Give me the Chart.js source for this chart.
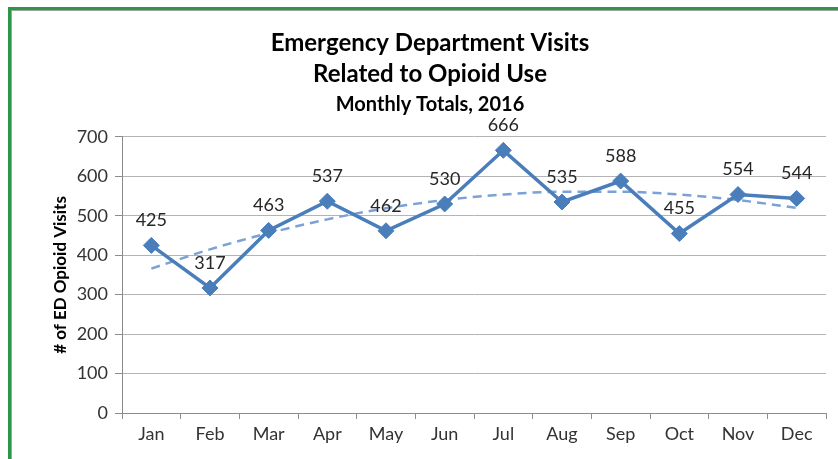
<!DOCTYPE html>
<html>
<head>
<meta charset="utf-8">
<script src="https://cdn.jsdelivr.net/npm/chart.js@4"></script>
<style>
    html, body { margin: 0; padding: 0; background: #fff; }
    #wrap { position: relative; width: 838px; height: 459px; overflow: hidden; }
    #frame {
        position: absolute; left: 8px; top: 7px; width: 900px; height: 500px;
        border-left: 3px solid #2e9649; border-top: 3px solid #2e9649;
        box-shadow: inset 1px 1px 0 #9aa79c;
    }
    #chartBox { position: absolute; left: 0; top: 0; width: 838px; height: 459px; }
</style>
</head>
<body>
<div id="wrap">
    <div id="frame"></div>
    <div id="chartBox"><canvas id="opioidChart"></canvas></div>
</div>
<script>
// 月份
const months = ['Jan', 'Feb', 'Mar', 'Apr', 'May', 'Jun', 'Jul', 'Aug', 'Sep', 'Oct', 'Nov', 'Dec'];
// 每月急诊就诊人次
const visits = [425, 317, 463, 537, 462, 530, 666, 535, 588, 455, 554, 544];
// 趋势线（二次多项式）
const trend = [366, 415, 456, 491, 519, 540, 554, 561, 561, 554, 540, 520];
// 纵轴刻度
const yTicks = [0, 100, 200, 300, 400, 500, 600, 700];

const FONT = 'Lato, "Open Sans", sans-serif';

// 数据标签插件
const valueLabels = {
    id: 'valueLabels',
    afterDatasetsDraw(chart) {
        const ctx = chart.ctx;
        const meta = chart.getDatasetMeta(0);
        ctx.save();
        ctx.font = '18px ' + FONT;
        ctx.fillStyle = '#262626';
        ctx.textAlign = 'center';
        ctx.textBaseline = 'middle';
        meta.data.forEach((pt, i) => {
            ctx.fillText(String(visits[i]), pt.x, pt.y - 25);
        });
        ctx.restore();
    }
};

const ctx = document.getElementById('opioidChart');
new Chart(ctx, {
    type: 'line',
    data: {
        labels: months,
        datasets: [
            {
                label: 'ED Visits',
                data: visits,
                borderColor: '#4a7ebb',
                backgroundColor: '#4a7ebb',
                borderWidth: 3.5,
                tension: 0,
                pointStyle: 'rectRot',
                pointRadius: 8,
                pointBorderWidth: 1,
                pointBackgroundColor: '#4a7ebb',
                pointBorderColor: '#4a7ebb',
                order: 1
            },
            {
                label: 'Trend',
                data: trend,
                borderColor: '#7ba1d6',
                borderWidth: 2.5,
                borderDash: [9, 6],
                tension: 0.4,
                cubicInterpolationMode: 'monotone',
                pointRadius: 0,
                fill: false,
                order: 2
            }
        ]
    },
    options: {
        responsive: true,
        maintainAspectRatio: false,
        animation: false,
        layout: { padding: { left: 34, right: 12, top: 0, bottom: 0 } },
        plugins: {
            legend: { display: false },
            tooltip: { enabled: false },
            title: {
                display: true,
                text: ['Emergency Department Visits', 'Related to Opioid Use'],
                color: '#000',
                font: { family: FONT, size: 24, weight: 'bold', lineHeight: 1.29 },
                padding: { top: 28, bottom: 3 }
            },
            subtitle: {
                display: true,
                text: 'Monthly Totals, 2016',
                color: '#000',
                font: { family: FONT, size: 20, weight: 'bold', lineHeight: 1.2 },
                padding: { top: 0, bottom: 20 }
            }
        },
        scales: {
            x: {
                offset: true,
                grid: {
                    offset: true,
                    drawOnChartArea: false,
                    drawTicks: true,
                    tickLength: 6,
                    color: '#8c8c8c'
                },
                border: { color: '#8c8c8c' },
                ticks: {
                    color: '#333',
                    font: { family: FONT, size: 18 },
                    padding: 4
                },
                afterFit(scale) { scale.height = 46; }
            },
            y: {
                min: 0,
                max: 700,
                afterBuildTicks(scale) {
                    scale.ticks = yTicks.map(v => ({ value: v }));
                },
                grid: {
                    color: '#b4b4b4',
                    tickLength: 7,
                    tickColor: '#8c8c8c'
                },
                border: { color: '#8c8c8c' },
                ticks: {
                    color: '#333',
                    font: { family: FONT, size: 18 },
                    padding: 7
                },
                title: {
                    display: true,
                    text: '# of ED Opioid Visits',
                    color: '#000',
                    font: { family: FONT, size: 17, weight: 'bold' },
                    padding: { top: 16, bottom: 0 }
                },
                afterFit(scale) { scale.width = 88; }
            }
        }
    },
    plugins: [valueLabels]
});
</script>
</body>
</html>
